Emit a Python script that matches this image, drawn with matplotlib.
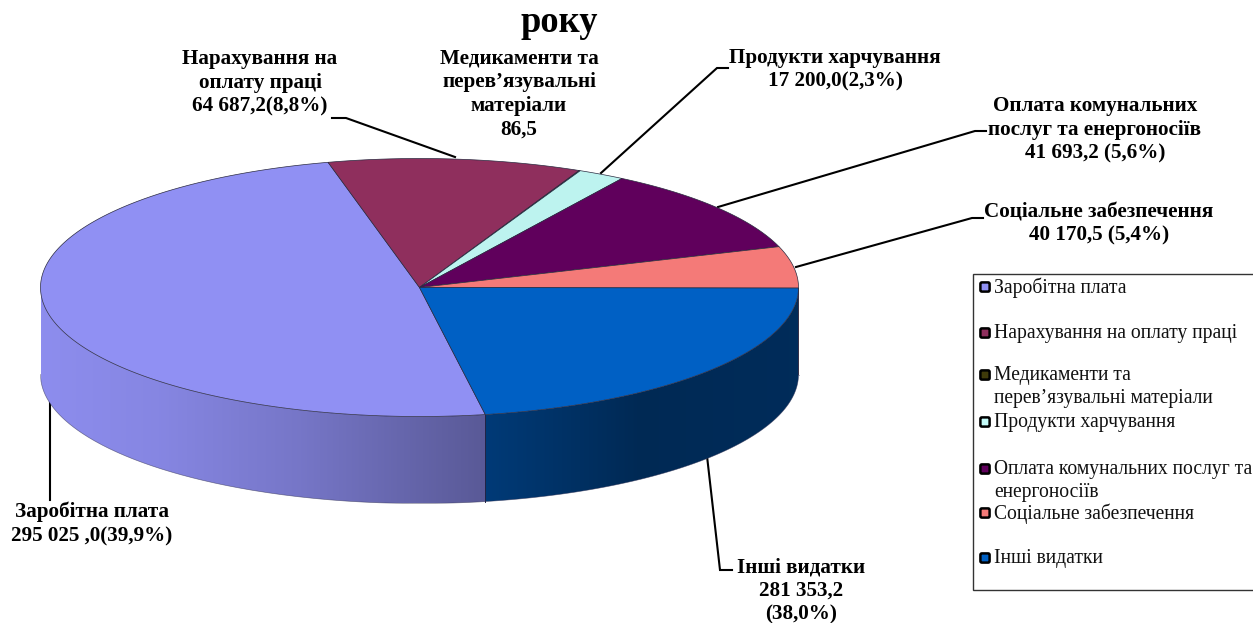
import numpy as np
import matplotlib
matplotlib.use("Agg")
import matplotlib.pyplot as plt
from matplotlib.patches import Polygon, Rectangle, FancyBboxPatch

plt.rcParams['font.family'] = ['Liberation Serif', 'DejaVu Serif']

# series, clockwise from the front boundary
categories = ["Заробітна плата", "Нарахування на оплату праці",
              "Медикаменти та\nперев’язувальні матеріали", "Продукти харчування",
              "Оплата комунальних послуг та\nенергоносіїв", "Соціальне забезпечення",
              "Інші видатки"]
# slice shares as drawn in the picture (they do not follow the printed labels)
shares = [48.9, 10.8, 0.05, 2.0, 10.9, 5.2, 22.15]
colors = ["#9090f3", "#8f2f5d", "#3f3a0a", "#bdf3ef", "#60005c", "#f47a78", "#0060c4"]
legend_colors = ["#9090f3", "#8f2f5d", "#3f3a0a", "#c4fbf8", "#60005c", "#f47a78", "#0060c4"]
legend_y = [287, 333, 375, 422, 469, 513, 558]

title = "року"
labels = [
    ("Заробітна плата\n295 025 ,0(39,9%)", 92, 524),
    ("Нарахування на\nоплату праці\n64 687,2(8,8%)", 260, 83),
    ("Медикаменти та\nперев’язувальні\nматеріали\n86,5", 519, 94),
    ("Продукти харчування\n17 200,0(2,3%)", 835, 70),
    ("Оплата комунальних\nпослуг та енергоносіїв\n41 693,2 (5,6%)", 1095, 130),
    ("Соціальне забезпечення\n40 170,5 (5,4%)", 1099, 224),
    ("Інші видатки\n281 353,2\n(38,0%)", 801, 591),
]
leaders = [
    ([50, 50], [400, 500]),
    ([332, 346, 455], [118, 118, 157]),
    ([601, 717, 728], [173, 68, 68]),
    ([718, 975, 986], [207, 131, 131]),
    ([796, 972, 983], [267, 218, 218]),
    ([707, 720, 732], [456, 570, 570]),
]

CX, CY, RX, RY, DEPTH = 419.5, 287.5, 379, 129, 87
START = -80


def rim(t):
    t = np.radians(t)
    return CX + RX * np.cos(t), CY - RY * np.sin(t)


def side_shade(x):
    # darkening of the wall, lit from the left
    return np.where(x <= 485,
                    np.interp(x, [40, 160, 300, 485], [0.98, 0.93, 0.82, 0.62]),
                    np.interp(x, [485, 640, 798], [0.61, 0.43, 0.46]))


fig = plt.figure(figsize=(12.53, 6.23), dpi=100)
ax = fig.add_axes([0, 0, 1, 1])
ax.axis("off")

sweeps = np.array(shares) / sum(shares) * 360
ends = START - np.cumsum(sweeps)
starts = np.r_[START, ends[:-1]]

# wall, only the front half of the rim shows
for a, b, c in zip(starts, ends, colors):
    rgb = np.array(matplotlib.colors.to_rgb(c))
    for shift in (0, 360):
        lo = max(b + shift, -180)
        hi = min(a + shift, 0)
        if hi <= lo:
            continue
        ts = np.linspace(lo, hi, 200)
        xs, ys = rim(ts)
        outline = np.r_[np.column_stack([xs, ys]), np.column_stack([xs[::-1], ys[::-1] + DEPTH])]
        patch = Polygon(outline, closed=True, facecolor="none", edgecolor="none", zorder=1)
        ax.add_patch(patch)
        grid = np.linspace(xs.min(), xs.max(), 400)
        strip = (side_shade(grid)[:, None] * rgb)[None, :, :]
        im = ax.imshow(strip, extent=[xs.min(), xs.max(), ys.max() + DEPTH, ys.min()],
                       aspect="auto", zorder=1, interpolation="bilinear")
        im.set_clip_path(patch)
        ax.plot(xs, ys + DEPTH, color="#333355", lw=0.5, alpha=0.6, zorder=2)

ax.set_xlim(0, 1253)
ax.set_ylim(623, 0)

x_front, y_front = rim(START)
ax.plot([x_front, x_front], [y_front, y_front + DEPTH], color="#222244", lw=0.7, zorder=2)

# top face
for a, b, c in zip(starts, ends, colors):
    ts = np.linspace(a, b, max(int(abs(a - b)) * 2, 2))
    xs, ys = rim(ts)
    pts = np.column_stack([np.r_[CX, xs], np.r_[CY, ys]])
    ax.add_patch(Polygon(pts, closed=True, facecolor=c, edgecolor="#2a2a40",
                         lw=0.5, zorder=3, joinstyle="round"))

for xs, ys in leaders:
    ax.plot(xs, ys, color="black", lw=1.5, zorder=0, solid_joinstyle="miter")

ax.text(559.5, 32, title, fontsize=26.3, fontweight="bold", ha="center", va="baseline", zorder=5)

for txt, x, y in labels:
    ax.text(x, y, txt, fontsize=15.2, fontweight="bold", ha="center", va="center",
            linespacing=1.25, zorder=5)

# legend box runs off the right edge
ax.add_patch(Rectangle((972.5, 274), 290, 316, facecolor="white", edgecolor="#333333",
                       lw=1, clip_on=True, zorder=4))
for name, c, y in zip(categories, legend_colors, legend_y):
    ax.add_patch(FancyBboxPatch((981.5, y - 3.5), 7, 7, boxstyle="round,pad=1.1,rounding_size=1.5",
                                facecolor=c, edgecolor="black", lw=1.8, zorder=5))
    ax.text(994, y - 9, name, fontsize=14.1, ha="left", va="top",
            linespacing=1.27, color="#111111", zorder=5)

fig.savefig("out.png", dpi=100)
